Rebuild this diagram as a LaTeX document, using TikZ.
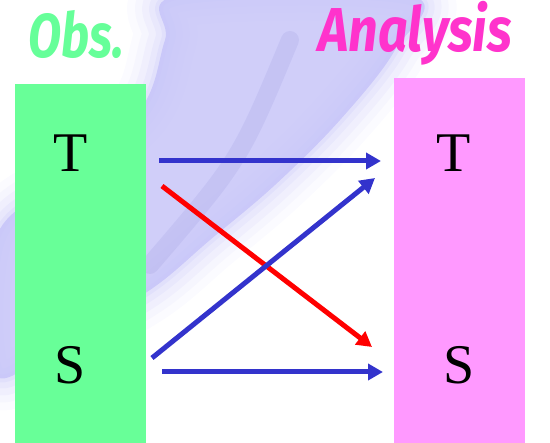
\documentclass[tikz,border=0pt]{standalone}
\usepackage{fontspec}
\setmainfont{Liberation Serif}
\newfontfamily\titlefont{Fira Sans}
\usepackage{xcolor}
\usetikzlibrary{arrows.meta,positioning}
\definecolor{obsgreen}{RGB}{104,255,152}
\definecolor{anapink}{RGB}{255,153,255}
\definecolor{titlegreen}{RGB}{102,255,153}
\definecolor{titlepink}{RGB}{255,51,204}
\definecolor{arrowblue}{RGB}{51,51,204}
\definecolor{swoosh}{RGB}{196,194,248}
\definecolor{swooshdark}{RGB}{172,170,230}
\newcommand{\swooshpath}{plot[smooth cycle, tension=0.6] coordinates {(180,-5) (410,-5) (395,50) (340,120) (275,185) (210,240) (150,290) (70,335) (-5,375) (-5,240) (60,180) (140,110) (165,40)}}

\begin{document}
\begin{tikzpicture}[
    x=1pt, y=-1pt,
    >={Triangle[length=15pt,width=16pt]},
    panel/.style={anchor=north west, inner sep=0pt, minimum width=131pt},
    letter/.style={font=\fontsize{56}{60}\selectfont, inner sep=0pt},
    heading/.style={font=\titlefont\bfseries\itshape\fontsize{62}{66}\selectfont, anchor=base west, inner sep=0pt},
    link/.style={->, line width=5pt}
]
\useasboundingbox (0,0) rectangle (550,443);
% background swoosh
\foreach \w/\o in {64/0.07, 48/0.09, 34/0.12, 20/0.16, 8/0.2}
  \draw[swoosh, line width=\w pt, opacity=\o, line join=round] \swooshpath;
\fill[swoosh, opacity=0.8] \swooshpath;
\draw[swooshdark, line width=18pt, opacity=0.3, line cap=round] (290,40) .. controls (240,160) .. (150,265);

% titles
\node[heading, text=titlegreen, xscale=0.78] (obstitle) at (28,58) {Obs.};
\node[heading, text=titlepink, xscale=0.84] (anatitle) at (318,52) {Analysis};

% panels
\node[panel, fill=obsgreen, minimum height=359pt] (obs) at (15,84) {};
\node[panel, fill=anapink, minimum height=365pt] (ana) at (394,78) {};

\node[letter] (obsT) at (71,153) {T};
\node[letter] (obsS) at (70,365) {S};
\node[letter] (anaT) at (454,153) {T};
\node[letter] (anaS) at (459,365) {S};

% arrow ends
\coordinate (tt0) at (159,161);
\coordinate (tt1) at (381,161);
\coordinate (ts0) at (162,186);
\coordinate (ts1) at (372,347);
\coordinate (st0) at (152,358);
\coordinate (st1) at (375,178);
\coordinate (ss0) at (162,372);
\coordinate (ss1) at (383,372);

\draw[link, arrowblue] (tt0) -- (tt1);
\draw[link, red] (ts0) -- (ts1);
\draw[link, arrowblue] (st0) -- (st1);
\draw[link, arrowblue] (ss0) -- (ss1);
\end{tikzpicture}
\end{document}
